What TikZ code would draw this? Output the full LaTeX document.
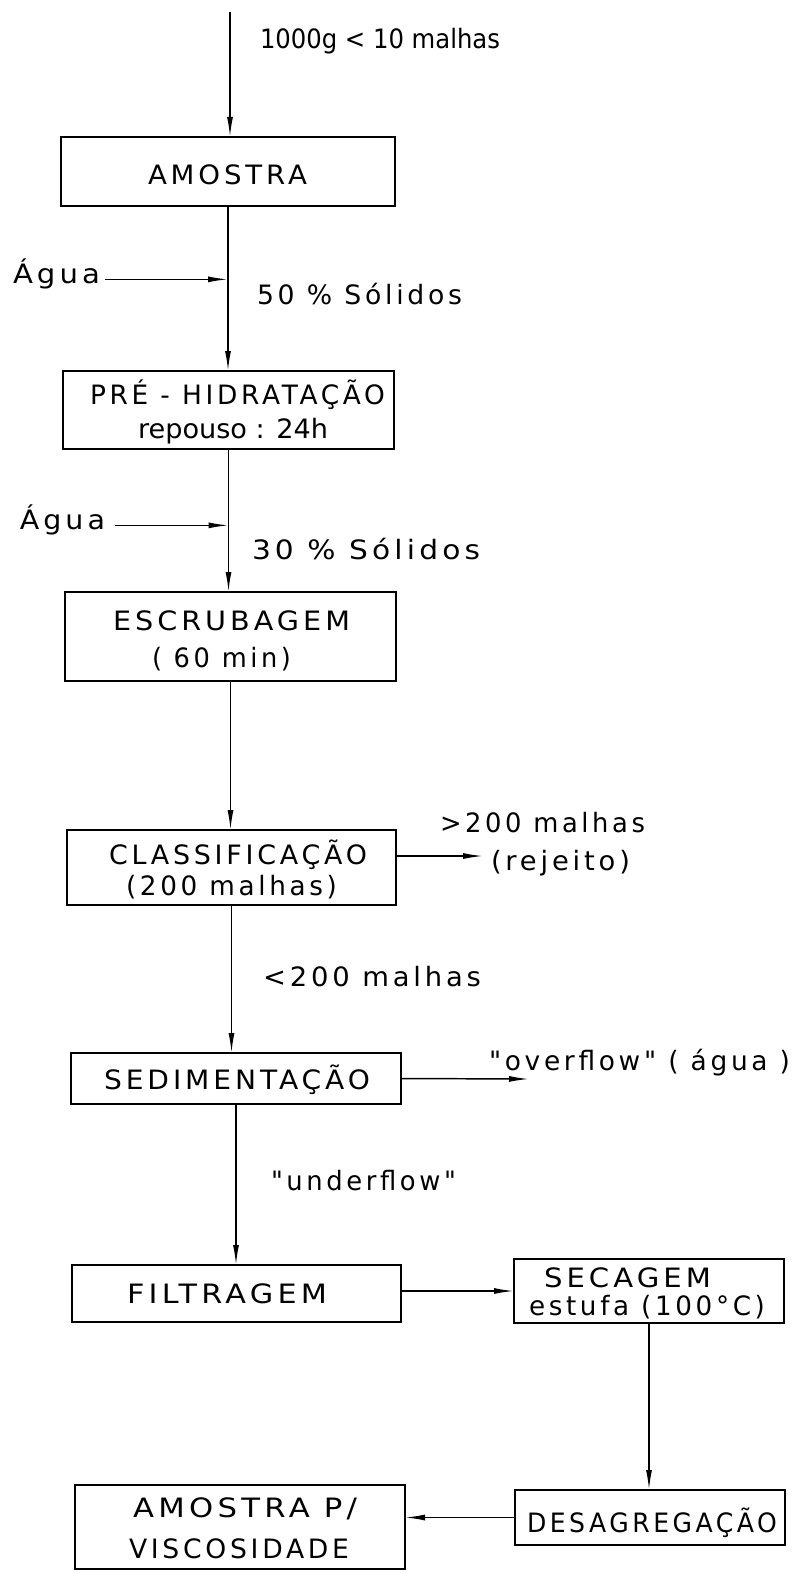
\documentclass[tikz,border=0pt]{standalone}
\usepackage{fontspec}
\setmainfont{DejaVu Sans}[LetterSpace=14]
% same face without the TeX input mapping, so that " stays a straight quote
\newfontfamily\rawfont{DejaVu Sans}[LetterSpace=14,Ligatures=TeXOff]
\usetikzlibrary{arrows.meta}
% one unit = one pixel of the drawing grid
\newlength\px
\setlength\px{0.75pt}
% set a label to a given width (in grid units), keeping its height
\newcommand\fw[2]{\resizebox{#1\px}{\height}{#2}}
% tighter tracking for the longer lowercase labels
\newcommand\tight{\addfontfeatures{LetterSpace=0}}

\begin{document}
\begin{tikzpicture}[x=0.75pt,y=-0.75pt,
  line width=1.1pt,
  every node/.style={inner sep=0pt, outer sep=0pt, font=\fontsize{20}{24}\selectfont},
  stage/.style={draw, line width=1.2pt, anchor=north west},
  lbl/.style={anchor=base west},
  flow/.style={-{Latex[length=15pt,width=4.5pt]}}]

\useasboundingbox[fill=white] (0,0) rectangle (794,1573);

% process boxes
\node[stage, minimum width=334\px, minimum height=69\px] (amostra) at (61,137) {};
\node[stage, minimum width=331\px, minimum height=78\px] (pre) at (63,371) {};
\node[stage, minimum width=331\px, minimum height=89\px] (esc) at (65,592) {};
\node[stage, minimum width=329\px, minimum height=75\px] (cls) at (67,830) {};
\node[stage, minimum width=330\px, minimum height=51\px] (sed) at (71,1053) {};
\node[stage, minimum width=329\px, minimum height=57\px] (fil) at (72,1265) {};
\node[stage, minimum width=270\px, minimum height=64\px] (sec) at (514,1259) {};
\node[stage, minimum width=270\px, minimum height=55\px] (des) at (515,1490) {};
\node[stage, minimum width=330\px, minimum height=84\px] (avs) at (75,1485) {};

% box captions
\node[lbl] (tam) at (148,185) {\fw{159}{AMOSTRA}};
\node[lbl] (tpre1) at (90,404) {\fw{295}{PRÉ - HIDRATAÇÃO}};
\node[lbl] (tpre2) at (138,438) {\fw{190}{\tight repouso : 24h}};
\node[lbl] (tesc1) at (113,630) {\fw{237}{ESCRUBAGEM}};
\node[lbl] (tesc2) at (152,667) {\fw{139}{( 60 min)}};
\node[lbl] (tcls1) at (109,864) {\fw{258}{CLASSIFICAÇÃO}};
\node[lbl] (tcls2) at (126,895) {\fw{211}{(200 malhas)}};
\node[lbl] (tsed) at (104,1089) {\fw{266}{SEDIMENTAÇÃO}};
\node[lbl] (tfil) at (127,1303) {\fw{200}{FILTRAGEM}};
\node[lbl] (tsec1) at (544,1287) {\fw{167}{SECAGEM}};
\node[lbl] (tsec2) at (529,1315) {\fw{236}{estufa (100°C)}};
\node[lbl] (tdes) at (527,1532) {\fw{250}{DESAGREGAÇÃO}};
\node[lbl] (tavs1) at (133,1517) {\fw{224}{AMOSTRA P/}};
\node[lbl] (tavs2) at (129,1558) {\fw{220}{VISCOSIDADE}};

% stream labels
\node[lbl] (tin) at (260,49) {\fw{240}{\tight 1000g < 10 malhas}};
\node[lbl] (ag1) at (13,283) {\fw{87}{Água}};
\node[lbl] (s50) at (257,304) {\fw{205}{50 \% Sólidos}};
\node[lbl] (ag2) at (20,529) {\fw{85}{Água}};
\node[lbl] (s30) at (252,559) {\fw{228}{30 \% Sólidos}};
\node[lbl] (trej1) at (440,832) {\fw{205}{>200 malhas}};
\node[lbl] (trej2) at (491,870) {\fw{139}{(rejeito)}};
\node[lbl] (tfine) at (263,986) {\fw{218}{<200 malhas}};
\node[lbl] (tovf) at (489,1070) {\fw{301}{\rawfont "overflow" ( água )}};
\node[lbl] (tund) at (271,1190) {\fw{185}{\rawfont "underflow"}};

% free ends of streams
\coordinate (feed) at (230,12);
\coordinate (rej) at (483,856);
\coordinate (ovf) at (529,1079);

% connectors
\draw[flow] (feed) -- (feed |- amostra.north);
\draw[flow] (amostra.south) -- (amostra.south |- pre.north);
\draw[flow] ([xshift=4pt]ag1.mid east) -- (ag1.mid east -| amostra.south);
\draw[flow] (pre.south) -- (pre.south |- esc.north);
\draw[flow] ([xshift=7.5pt]ag2.mid east) -- (ag2.mid east -| pre.south);
\draw[flow] (esc.south) -- (esc.south |- cls.north);
\draw[flow] (cls.east |- rej) -- (rej);
\draw[flow] (cls.south) -- (cls.south |- sed.north);
\draw[flow] (sed.east) -- (ovf);
\draw[flow] (sed.south) -- (sed.south |- fil.north);
\draw[flow] (fil.east |- sec.west) -- (sec.west);
\draw[flow] (sec.south) -- (sec.south |- des.north);
\draw[flow] (des.west) -- (des.west -| avs.east);
\end{tikzpicture}
\end{document}
